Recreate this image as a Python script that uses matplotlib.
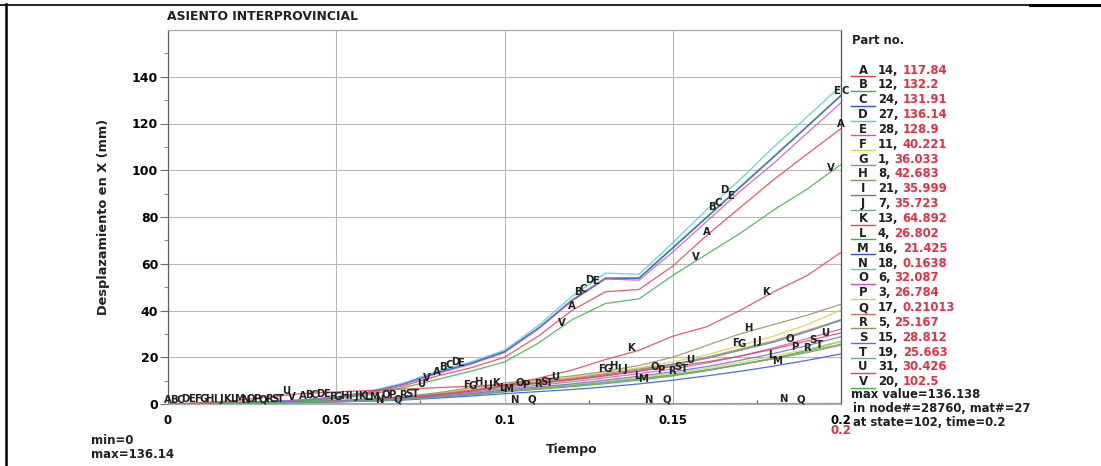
import numpy as np
import matplotlib
matplotlib.use("Agg")
import matplotlib.pyplot as plt
from matplotlib.lines import Line2D

plt.rcParams["font.family"] = ["DejaVu Sans"]
plt.rcParams["font.weight"] = "bold"

# ---------------- data ----------------
time = [0.0, 0.01, 0.02, 0.03, 0.04, 0.05, 0.06, 0.07, 0.08, 0.09, 0.10,
        0.11, 0.12, 0.13, 0.14, 0.15, 0.16, 0.17, 0.18, 0.19, 0.20]

A = [0, 0.3, 0.6, 0.9, 1.5, 2.6, 4.6, 7.8, 12, 15.5, 20, 29, 40, 48, 49, 59, 72, 84, 96, 107, 117.84]
B = [0, 0.3, 0.6, 1.0, 1.7, 2.9, 5.2, 8.6, 13.5, 17.5, 22.5, 32.5, 44.5, 54, 54, 67, 80, 93, 106, 119, 132.2]
C = [0, 0.3, 0.6, 1.0, 1.7, 2.9, 5.2, 8.6, 13.4, 17.4, 22.3, 32.3, 44.2, 53.6, 53.8, 66.6, 79.6, 92.6, 105.6, 118.7, 131.91]
D = [0, 0.3, 0.6, 1.0, 1.8, 3.0, 5.5, 9, 14, 18, 23, 33.5, 46, 56, 55.5, 69, 83, 96, 110, 123, 136.14]
E = [0, 0.3, 0.6, 1.0, 1.7, 2.8, 5.0, 8.4, 13, 17, 22, 32, 44, 53.5, 53, 65, 78, 91, 103, 116, 128.9]
F = [0, 0.2, 0.4, 0.6, 0.9, 1.4, 2.0, 3.0, 4.5, 6.5, 8.5, 10, 11.5, 13.5, 15.5, 18, 21, 25, 29, 34, 40.221]
G = [0, 0.2, 0.4, 0.6, 0.9, 1.3, 1.9, 2.8, 4.2, 6, 8, 9.5, 11, 13, 15, 17, 20, 23.5, 27, 31.5, 36.033]
H = [0, 0.2, 0.4, 0.6, 1.0, 1.5, 2.2, 3.2, 4.8, 7, 9, 10.5, 12, 14, 16.5, 20, 25, 30, 34, 38, 42.683]
I = [0, 0.2, 0.4, 0.6, 0.9, 1.3, 1.9, 2.7, 4.0, 5.6, 7.5, 9, 10.5, 12.5, 14.5, 17, 19.5, 23, 26.5, 31, 35.999]
J = [0, 0.2, 0.4, 0.6, 0.9, 1.3, 1.8, 2.6, 3.8, 5.4, 7.2, 8.7, 10.2, 12.2, 14.2, 16.5, 19.5, 23, 26.5, 31, 35.723]
K = [0, 0.1, 0.3, 0.5, 0.8, 1.2, 1.8, 2.6, 3.8, 5.5, 8, 11, 14.5, 19, 23, 29, 33, 40, 48, 55, 64.892]
L = [0, 0.1, 0.3, 0.5, 0.7, 1.0, 1.4, 2.0, 2.9, 4.0, 5.2, 6.3, 7.4, 8.7, 10.2, 12, 14.2, 16.8, 19.5, 23, 26.802]
M = [0, 0.1, 0.2, 0.4, 0.6, 0.9, 1.2, 1.7, 2.5, 3.4, 4.4, 5.3, 6.2, 7.3, 8.6, 10.2, 12, 14, 16.2, 18.7, 21.425]
N = [0, 0, 0.01, 0.01, 0.02, 0.03, 0.04, 0.05, 0.06, 0.07, 0.08, 0.09, 0.1, 0.11, 0.12, 0.13, 0.14, 0.15, 0.15, 0.16, 0.1638]
O = [0, 0.2, 0.3, 0.5, 0.8, 1.2, 1.7, 2.4, 3.5, 5, 6.6, 8, 9.5, 11.2, 13, 15, 17.5, 20.5, 24, 28, 32.087]
P = [0, 0.1, 0.3, 0.5, 0.7, 1.0, 1.5, 2.1, 3.1, 4.3, 5.7, 7, 8.3, 9.8, 11.4, 13.2, 15.3, 17.8, 20.5, 23.5, 26.784]
Q = [0, 0, 0.01, 0.02, 0.03, 0.04, 0.05, 0.06, 0.07, 0.08, 0.1, 0.11, 0.12, 0.13, 0.14, 0.15, 0.16, 0.18, 0.19, 0.2, 0.21013]
R = [0, 0.1, 0.3, 0.5, 0.7, 1.0, 1.4, 2.0, 2.9, 4.0, 5.3, 6.6, 7.8, 9.2, 10.7, 12.4, 14.4, 16.8, 19.3, 22, 25.167]
S = [0, 0.1, 0.3, 0.5, 0.8, 1.1, 1.6, 2.2, 3.2, 4.5, 6, 7.3, 8.6, 10.2, 11.9, 13.8, 16, 18.7, 21.6, 25, 28.812]
T = [0, 0.1, 0.3, 0.5, 0.7, 1.0, 1.4, 2.0, 2.9, 4.1, 5.4, 6.7, 7.9, 9.3, 10.8, 12.6, 14.6, 17, 19.6, 22.5, 25.663]
U = [0, 0.5, 1.5, 3, 4.5, 5.2, 5.8, 6.4, 7, 7.6, 8.2, 9, 10.5, 12, 14, 16, 18, 20.5, 23.5, 27, 30.426]
V = [0, 0.2, 0.4, 0.7, 1.3, 2.2, 4, 7, 10.5, 14, 18, 26, 36, 43, 45, 55, 64, 73, 83, 92, 102.5]

letters = list("ABCDEFGHIJKLMNOPQRSTUV")
series = [A, B, C, D, E, F, G, H, I, J, K, L, M, N, O, P, Q, R, S, T, U, V]
part_ids = ["14", "12", "24", "27", "28", "11", "1", "8", "21", "7", "13",
            "4", "16", "18", "6", "3", "17", "5", "15", "19", "31", "20"]
max_vals = ["117.84", "132.2", "131.91", "136.14", "128.9", "40.221", "36.033",
            "42.683", "35.999", "35.723", "64.892", "26.802", "21.425", "0.1638",
            "32.087", "26.784", "0.21013", "25.167", "28.812", "25.663", "30.426", "102.5"]

x_ticks = [0, 0.05, 0.1, 0.15, 0.2]
x_tick_labels = ["0", "0.05", "0.1", "0.15", "0.2"]
y_ticks = [0, 20, 40, 60, 80, 100, 120, 140]

palette = ["#e8404a", "#3cb040", "#3050e0", "#40d0e0", "#d050d0",
           "#d8d040", "#e07060", "#909060", "#6070d0", "#60b080"]

W, Hh = 1101, 466
def fx(x):
    return x / W
def fy(y):
    return 1 - y / Hh

fig = plt.figure(figsize=(W / 100, Hh / 100), dpi=100)
fig.patch.set_facecolor("white")
ax = fig.add_axes([fx(168), fy(404), (841 - 168) / W, (404 - 30) / Hh])
ax.set_xlim(0, 0.2)
ax.set_ylim(0, 160)
ax.set_xticks(x_ticks)
ax.set_xticklabels(x_tick_labels)
ax.set_yticks(y_ticks)
ax.set_yticks(np.arange(10, 160, 20), minor=True)
ax.set_xticks(np.arange(0.025, 0.2, 0.05), minor=True)
ax.grid(which="major", color="#b8b8b8", lw=0.8)
ax.set_axisbelow(True)
ax.tick_params(axis="y", which="major", direction="out", length=6, width=0.8,
               color="#707070", labelsize=9, pad=1)
ax.tick_params(axis="y", which="minor", direction="out", length=3, width=0.8, color="#909090")
ax.tick_params(axis="x", which="major", length=0, pad=7, labelsize=8.5)
ax.tick_params(axis="x", which="minor", direction="in", length=3, width=0.8, color="#606060")
ax.spines["left"].set_color("#606060")
ax.spines["top"].set_color("#a8a8a8")
ax.spines["right"].set_color("#505050")
ax.spines["bottom"].set_color("#b0b0b0")
for sp in ax.spines.values():
    sp.set_linewidth(0.9)

for k, vals in enumerate(series):
    ax.plot(time, vals, color=palette[k % 10], lw=0.9, alpha=0.85, zorder=2)

# curve letter labels (periodic along each curve, staggered per curve)
end_shift = {0: 0.0, 2: 0.0013, 4: -0.0013}
for k, (let, vals) in enumerate(zip(letters, series)):
    for j in range(6):
        tl = 0.04 * j + k * 0.00176
        if tl > 0.2:
            if j == 5 and k in end_shift:
                v = float(series[2][-1]) if k in (2, 4) else float(vals[-1])
                tl = 0.2 + end_shift[k]
            else:
                continue
        else:
            v = float(np.interp(tl, time, vals))
        ax.annotate(let, (tl, v), xytext=(0, 3), textcoords="offset points",
                    ha="center", va="center", fontsize=7.3, fontweight="bold",
                    color="#202020", annotation_clip=False, zorder=5)

# legend
fig.text(fx(852), fy(40), "Part no.", fontsize=8.4, ha="left", va="center", color="#202020")
row0, dy = 70.0, 14.85
for k in range(len(letters)):
    yb = row0 + k * dy
    fig.text(fx(863), fy(yb), letters[k], fontsize=8.4, ha="center", va="center", color="#202020")
    pt = fig.text(fx(878), fy(yb), part_ids[k] + ",", fontsize=8.4, ha="left", va="center",
                  color="#202020")
    ax.annotate(max_vals[k], xy=(1, 0.5), xycoords=pt, xytext=(3, 0),
                textcoords="offset points", ha="left", va="center",
                fontsize=8.4, color="#e83040", annotation_clip=False)
    fig.add_artist(Line2D([fx(851), fx(875)], [fy(yb + 6), fy(yb + 6)],
                          color=palette[k % 10], lw=1.0, transform=fig.transFigure))

fig.text(fx(851), fy(395), "max value=136.138", fontsize=8.4, ha="left", va="center", color="#202020")
fig.text(fx(853), fy(409), "in node#=28760, mat#=27", fontsize=8.4, ha="left", va="center", color="#202020")
fig.text(fx(853), fy(423), "at state=102, time=0.2", fontsize=8.4, ha="left", va="center", color="#202020")
fig.text(fx(841), fy(431), "0.2", fontsize=8.5, ha="center", va="center", color="#e83040")

fig.text(fx(167), fy(17), "ASIENTO INTERPROVINCIAL", fontsize=8.9, ha="left", va="center", color="#202020")
fig.text(fx(103), fy(217), "Desplazamiento en X (mm)", fontsize=9.3, rotation=90,
         ha="center", va="center", color="#202020")
fig.text(fx(572), fy(450), "Tiempo", fontsize=9, ha="center", va="center", color="#202020")
fig.text(fx(91), fy(441), "min=0", fontsize=8.5, ha="left", va="center", color="#202020")
fig.text(fx(91), fy(455), "max=136.14", fontsize=8.5, ha="left", va="center", color="#202020")

# outer frame lines
fig.add_artist(Line2D([0, 1], [fy(4.5), fy(4.5)], color="black", lw=1.2, transform=fig.transFigure))
fig.add_artist(Line2D([fx(1030), 1], [fy(5), fy(5)], color="black", lw=2.2, transform=fig.transFigure))
fig.add_artist(Line2D([fx(6), fx(6)], [fy(4), 0], color="black", lw=1.8, transform=fig.transFigure))

fig.savefig("out.png", dpi=100, facecolor="white")
